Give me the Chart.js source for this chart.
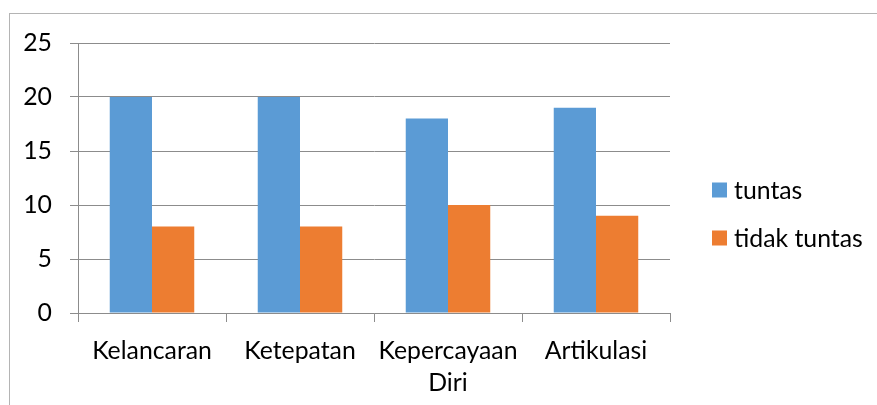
<!DOCTYPE html>
<html>
<head>
<meta charset="utf-8">
<script src="https://cdn.jsdelivr.net/npm/chart.js@4"></script>
<style>
  html, body { margin: 0; padding: 0; background: #fff; overflow: hidden; }
  #wrap { position: relative; width: 877px; height: 405px; }
  #frame { position: absolute; left: 9px; top: 13px; width: 900px; height: 500px;
           border-left: 1px solid #b4b4b4; border-top: 1px solid #b4b4b4; }
  canvas { position: absolute; left: 0; top: 0; }
</style>
</head>
<body>
<div id="wrap">
  <div id="frame"></div>
  <canvas id="c" width="877" height="405"></canvas>
</div>
<script>
const categories = ['Kelancaran', 'Ketepatan', ['Kepercayaan', 'Diri'], 'Artikulasi'];
const tuntas = [20, 20, 18, 19];
const tidakTuntas = [8, 8, 10, 9];
const seriesNames = ['tuntas', 'tidak tuntas'];
const seriesColors = ['#5B9BD5', '#ED7D31'];
const yTicks = [0, 5, 10, 15, 20, 25];

const FONT = 'Lato, "Open Sans", sans-serif';
const FONT_SIZE = 24.8;

// Legend on the right, drawn from the dataset labels and colours
const sideLegend = {
  id: 'sideLegend',
  afterDraw(chart) {
    const ctx = chart.ctx;
    ctx.save();
    ctx.font = FONT_SIZE + 'px ' + FONT;
    ctx.textBaseline = 'middle';
    ctx.textAlign = 'left';
    chart.data.datasets.forEach((ds, i) => {
      const y = 190 + i * 48;
      ctx.fillStyle = ds.backgroundColor;
      ctx.fillRect(712, y - 7.5, 15, 15);
      ctx.fillStyle = '#000';
      ctx.fillText(ds.label, 734, y + 1);
    });
    ctx.restore();
  }
};

new Chart(document.getElementById('c'), {
  type: 'bar',
  data: {
    labels: categories,
    datasets: [
      { label: seriesNames[0], data: tuntas, backgroundColor: seriesColors[0] },
      { label: seriesNames[1], data: tidakTuntas, backgroundColor: seriesColors[1] }
    ]
  },
  options: {
    responsive: false,
    animation: false,
    devicePixelRatio: 1,
    layout: { padding: { left: 0, top: 43, right: 207, bottom: 0 } },
    datasets: { bar: { categoryPercentage: 0.571, barPercentage: 1.0, borderWidth: 0 } },
    plugins: { legend: { display: false }, tooltip: { enabled: false } },
    scales: {
      x: {
        afterFit(s) { s.height = 92; },
        grid: { display: true, drawOnChartArea: false, offset: true, tickLength: 9, color: '#8c8c8c' },
        border: { display: true, color: '#8c8c8c' },
        ticks: { color: '#000', font: { family: FONT, size: FONT_SIZE, lineHeight: 1.3 }, padding: 13, maxRotation: 0, autoSkip: false }
      },
      y: {
        min: 0, max: 25,
        afterFit(s) { s.width = 78; },
        afterBuildTicks(s) { s.ticks = yTicks.map(v => ({ value: v })); },
        grid: { color: '#8c8c8c', tickLength: 8 },
        border: { display: true, color: '#8c8c8c' },
        ticks: { color: '#000', font: { family: FONT, size: FONT_SIZE }, padding: 18 }
      }
    }
  },
  plugins: [sideLegend]
});
</script>
</body>
</html>
